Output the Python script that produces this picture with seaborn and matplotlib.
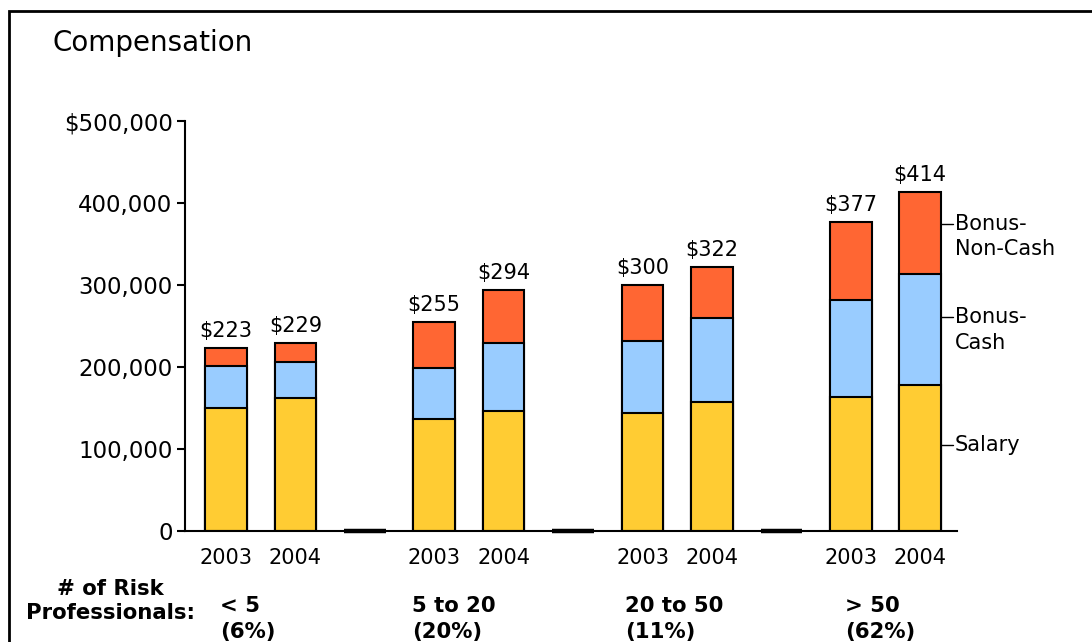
import matplotlib
matplotlib.use("Agg")
import matplotlib.pyplot as plt
from matplotlib.patches import Rectangle
import seaborn as sns
import pandas as pd

# data (values in $000)
groups = ["< 5", "5 to 20", "20 to 50", "> 50"]
shares = ["(6%)", "(20%)", "(11%)", "(62%)"]
years = ["2003", "2004"]
salary = [150, 162, 137, 146, 144, 157, 163, 178]
bonus_cash = [51, 44, 62, 83, 88, 103, 119, 136]
bonus_non_cash = [22, 23, 56, 65, 68, 62, 95, 100]
totals = [223, 229, 255, 294, 300, 322, 377, 414]
ytick_values = [0, 100000, 200000, 300000, 400000, 500000]
ytick_labels = ["0", "100,000", "200,000", "300,000", "400,000", "$500,000"]
series_labels = ["Bonus-\nNon-Cash", "Bonus-\nCash", "Salary"]

COLORS = {"salary": "#FFCC33", "cash": "#99CCFF", "noncash": "#FF6633"}

# build slots: 2 bars per group, an empty spacer slot between groups
rows = []
k = 0
for g, grp in enumerate(groups):
    for y in years:
        s, c, n = salary[k], bonus_cash[k], bonus_non_cash[k]
        rows.append({"slot": f"{grp} {y}", "label": y, "salary": s * 1000,
                     "cash": (s + c) * 1000, "total": (s + c + n) * 1000})
        k += 1
    if g < len(groups) - 1:
        rows.append({"slot": f"gap{g}", "label": "", "salary": 0, "cash": 0, "total": 0})
df = pd.DataFrame(rows)
order = list(df["slot"])

sns.set_style("white")
plt.rcParams["font.family"] = ["DejaVu Sans"]
plt.rcParams["text.color"] = "black"
plt.rcParams["xtick.color"] = "black"
plt.rcParams["ytick.color"] = "black"

W, H = 1092, 642
fig = plt.figure(figsize=(W / 100, H / 100), dpi=100)
ax = fig.add_axes([185 / W, 1 - 531 / H, (957 - 185) / W, (531 - 121) / H])

for col, color in [("total", "noncash"), ("cash", "cash"), ("salary", "salary")]:
    sns.barplot(data=df, x="slot", y=col, order=order, color=COLORS[color],
                edgecolor="black", linewidth=1.5, width=0.6, errorbar=None,
                saturation=1, ax=ax)

# spacer slots show as a thick dash on the baseline
for p in ax.patches:
    if p.get_height() == 0:
        p.set_linewidth(3)
        p.set_zorder(3)
        p.set_clip_on(False)

ax.set_xlim(-0.59, len(order) - 1 + 0.53)
ax.set_ylim(0, 500000)
ax.set_xlabel("")
ax.set_ylabel("")
ax.set_yticks(ytick_values)
ax.set_yticklabels(ytick_labels, fontsize=16.5)
ax.set_xticks(range(len(order)))
ax.set_xticklabels(df["label"], fontsize=15)
ax.tick_params(axis="y", direction="out", length=6, width=1.5, color="black", left=True, pad=3)
ax.tick_params(axis="x", length=0, pad=12)
for side in ["top", "right"]:
    ax.spines[side].set_visible(False)
for side in ["left", "bottom"]:
    ax.spines[side].set_color("black")
    ax.spines[side].set_linewidth(1.5)

# value labels
bar_idx = [i for i, s in enumerate(order) if not s.startswith("gap")]
for i, t in zip(bar_idx, totals):
    ax.text(i, t * 1000 + 8500, f"${t}", ha="center", va="bottom", fontsize=15)

# series labels next to last bar
last = bar_idx[-1]
label_y = [375000, 261000, 105000]
for lab, yv in zip(series_labels, label_y):
    ax.plot([last + 0.3, last + 0.47], [yv, yv], color="black", lw=1, clip_on=False)
    nl = lab.count("\n")
    ax.annotate(lab, xy=(last + 0.5, yv), xytext=(0, 7 if nl else 0),
                textcoords="offset points", ha="left",
                va="top" if nl else "center", fontsize=15, annotation_clip=False,
                linespacing=1.35)

# titles and bottom category labels
fig.text(52 / W, 1 - 43 / H, "Compensation", fontsize=20, ha="left", va="center")
fig.text(110 / W, 1 - 601 / H, "# of Risk\nProfessionals:", fontsize=15.3,
         fontweight="bold", ha="center", va="center", multialignment="center",
         linespacing=1.2)
group_x = [220, 412, 625, 845]
for gx, grp, sh in zip(group_x, groups, shares):
    fig.text(gx / W, 1 - 619 / H, f"{grp}\n{sh}", fontsize=15.3, fontweight="bold",
             ha="left", va="center", linespacing=1.35)

# outer frame (only top/left visible in the crop)
fig.patches.append(Rectangle((9 / W, -0.2), 1.2, 1.2 - 11 / H, transform=fig.transFigure,
                             fill=False, edgecolor="black", linewidth=2))

fig.savefig("out.png", dpi=100)
